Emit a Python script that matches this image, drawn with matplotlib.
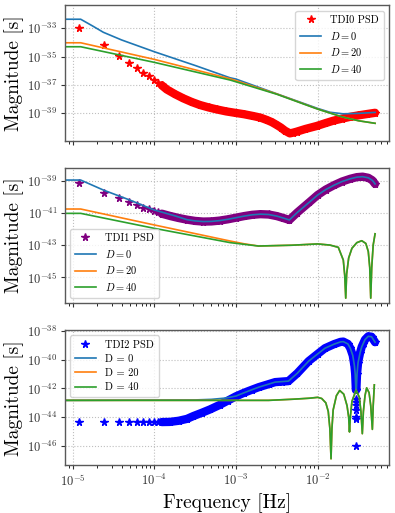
import matplotlib
matplotlib.use("Agg")
import matplotlib.pyplot as plt
from matplotlib.ticker import LogLocator, NullLocator, NullFormatter
import numpy as np

plt.rcParams["font.family"] = "serif"
plt.rcParams["font.serif"] = ["cmr10"]
plt.rcParams["mathtext.fontset"] = "cm"
plt.rcParams["axes.unicode_minus"] = False
plt.rcParams["axes.formatter.use_mathtext"] = True

# all values, as log10(frequency) / log10(magnitude)
star_lf = [-4.917, -4.614, -4.435, -4.312, -4.214, -4.133, -4.067, -4.006, -3.957, -3.908]

# ---- TDI0
tdi0_star = [-33.0, -34.2, -34.95, -35.43, -35.82, -36.13, -36.39, -36.63, -36.84, -37.02]
tdi0_band_lf = [-3.908, -3.847, -3.744, -3.644, -3.54, -3.44, -3.335, -3.235, -3.12, -3.0, -2.9,
                -2.787, -2.7, -2.62, -2.56, -2.5, -2.45, -2.40, -2.34, -2.30, -2.256, -2.15,
                -2.011, -1.91, -1.81, -1.70, -1.60, -1.50, -1.40, -1.297]
tdi0_band_lv = [-37.02, -37.31, -37.65, -37.94, -38.2, -38.41, -38.58, -38.72, -38.86, -38.97, -39.06,
                -39.19, -39.3, -39.47, -39.62, -39.82, -40.0, -40.22, -40.41, -40.36, -40.29, -40.1,
                -39.89, -39.7, -39.52, -39.37, -39.24, -39.14, -39.05, -38.96]
tdi0_d0_lf = [-5.092, -4.90, -4.75, -4.623, -4.4, -4.0, -3.5, -3.072, -3.0, -2.5, -2.0, -1.85, -1.69, -1.5, -1.297]
tdi0_d0_lv = [-32.36, -32.36, -32.85, -33.28, -33.82, -34.65, -35.62, -36.49, -36.58, -37.62, -38.65, -38.92, -39.03, -39.0, -38.93]
tdi0_d20_lf = [-5.092, -4.90, -4.0, -3.07, -2.5, -2.0, -1.705, -1.5, -1.297]
tdi0_d20_lv = [-34.02, -34.02, -35.19, -36.56, -37.63, -38.69, -39.24, -39.52, -39.70]
tdi0_d40_lf = [-5.092, -4.90, -4.0, -3.07, -2.5, -2.0, -1.705, -1.5, -1.297]
tdi0_d40_lv = [-34.30, -34.30, -35.40, -36.65, -37.65, -38.70, -39.24, -39.52, -39.70]

# ---- TDI1
tdi1_star = [-39.12, -39.75, -40.1, -40.34, -40.53, -40.68, -40.78, -40.88, -40.97, -41.05]
tdi1_band_lf = [-3.908, -3.8, -3.7, -3.6, -3.5, -3.4, -3.3, -3.2, -3.1, -3.0, -2.9, -2.8, -2.7,
                -2.6, -2.5, -2.42, -2.346, -2.25, -2.1, -2.0, -1.9, -1.8, -1.7, -1.6, -1.52,
                -1.45, -1.38, -1.33, -1.297]
tdi1_band_lv = [-41.05, -41.2, -41.32, -41.42, -41.5, -41.54, -41.53, -41.48, -41.4, -41.3, -41.2,
                -41.12, -41.08, -41.1, -41.2, -41.32, -41.44, -40.98, -40.33, -39.89, -39.55,
                -39.28, -39.05, -38.88, -38.78, -38.75, -38.82, -38.98, -39.2]
tdi1_d0_lf = [-5.092, -4.90, -4.623, -4.3, -4.0, -3.75] + tdi1_band_lf[3:]
tdi1_d0_lv = [-38.96, -38.96, -39.58, -40.2, -40.82, -41.18] + tdi1_band_lv[3:]
tdi1_d40_lf = [-5.092, -4.90, -4.0, -3.07, -2.725, -2.316, -2.0, -1.85, -1.747, -1.686, -1.668,
               -1.656, -1.645, -1.62, -1.58, -1.52, -1.46, -1.41, -1.38, -1.362, -1.35, -1.338,
               -1.32, -1.297]
tdi1_d40_lv = [-41.03, -41.03, -41.96, -42.85, -43.06, -43.01, -42.93, -43.0, -43.14, -43.93, -44.9,
               -46.3, -44.8, -43.8, -43.2, -42.85, -42.73, -42.9, -43.4, -44.4, -46.3, -44.4,
               -43.0, -42.3]
tdi1_d20_lf = [-5.092, -4.90, -4.0, -3.07, -2.9] + tdi1_d40_lf[4:]
tdi1_d20_lv = [-40.76, -40.76, -41.75, -42.75, -42.92] + tdi1_d40_lv[4:]

# ---- TDI2
tdi2_star = [-44.34] * 10
tdi2_band_lf = [-3.908, -3.81, -3.7, -3.6, -3.52, -3.42, -3.317, -3.2, -3.1, -3.0, -2.9, -2.8,
                -2.72, -2.6, -2.52, -2.43, -2.357, -2.25, -2.11, -2.0, -1.91, -1.8, -1.72,
                -1.686, -1.63, -1.60, -1.57, -1.55, -1.54, -1.532, -1.526, -1.518, -1.505,
                -1.48, -1.46, -1.42, -1.38, -1.34, -1.297]
tdi2_band_lv = [-44.34, -44.33, -44.25, -44.12, -43.92, -43.7, -43.46, -43.15, -42.85, -42.55, -42.3,
                -42.08, -41.91, -41.7, -41.56, -41.52, -41.49, -40.95, -40.1, -39.6, -39.2, -38.92,
                -38.76, -38.74, -38.9, -39.2, -39.7, -40.4, -41.0, -42.1, -42.1, -41.0, -40.2,
                -39.5, -39.1, -38.6, -38.37, -38.4, -38.78]
tdi2_notch_lf = [-1.529] * 7
tdi2_notch_lv = [-42.72, -42.95, -43.18, -43.53, -43.99, -44.15, -46.0]
tdi2_d0_lf = [-5.092, -3.5, -3.3, -3.13, -3.0] + tdi2_band_lf[10:]
tdi2_d0_lv = [-42.83, -42.8, -42.76, -42.67, -42.53] + tdi2_band_lv[10:]
tdi2_d40_lf = [-5.092, -2.6, -2.3, -2.1, -2.0, -1.95, -1.9, -1.87, -1.85, -1.836, -1.825, -1.81,
               -1.77, -1.73, -1.68, -1.64, -1.62, -1.61, -1.60, -1.58, -1.53, -1.49, -1.47,
               -1.453, -1.44, -1.42, -1.40, -1.37, -1.35, -1.33, -1.32, -1.306]
tdi2_d40_lv = [-42.83, -42.83, -42.75, -42.68, -42.62, -42.7, -43.0, -43.6, -44.8, -46.9, -44.8,
               -43.5, -42.5, -42.14, -42.4, -43.2, -44.0, -45.03, -44.0, -42.9, -42.12, -42.6,
               -43.6, -45.15, -43.6, -42.5, -41.96, -42.3, -43.2, -44.85, -43.2, -41.75]


def e(v):
    return 10.0 ** np.array(v)


W = 0.8203
axes_pos = [[0.1646, 0.7251, W, 0.2642],
            [0.1646, 0.4094, W, 0.2625],
            [0.1646, 0.0930, W, 0.2632]]

fig = plt.figure(figsize=(3.95, 5.13), dpi=100)
axs = [fig.add_axes(p) for p in axes_pos]

panels = [
    dict(name="TDI0 PSD", c="red", sv=tdi0_star, bf=tdi0_band_lf, bv=tdi0_band_lv,
         lines=[(tdi0_d0_lf, tdi0_d0_lv), (tdi0_d20_lf, tdi0_d20_lv), (tdi0_d40_lf, tdi0_d40_lv)],
         labels=["$D=0$", "$D=20$", "$D=40$"], loc="upper right",
         ylim=(-40.95, -31.39), yt=[-33, -35, -37, -39]),
    dict(name="TDI1 PSD", c="purple", sv=tdi1_star, bf=tdi1_band_lf, bv=tdi1_band_lv,
         lines=[(tdi1_d0_lf, tdi1_d0_lv), (tdi1_d20_lf, tdi1_d20_lv), (tdi1_d40_lf, tdi1_d40_lv)],
         labels=["$D=0$", "$D=20$", "$D=40$"], loc="lower left",
         ylim=(-46.6, -38.23), yt=[-39, -41, -43, -45]),
    dict(name="TDI2 PSD", c="blue", sv=tdi2_star, bf=tdi2_band_lf, bv=tdi2_band_lv,
         lines=[(tdi2_d0_lf, tdi2_d0_lv), (tdi2_d40_lf, tdi2_d40_lv), (tdi2_d40_lf, tdi2_d40_lv)],
         labels=["D = 0", "D = 20", "D = 40"], loc="upper left",
         ylim=(-47.35, -37.95), yt=[-38, -40, -42, -44, -46]),
]

for ax, p in zip(axs, panels):
    ax.plot(e(star_lf), e(p["sv"]), "*", color=p["c"], ms=5.5, label=p["name"])
    ax.plot(e(p["bf"]), e(p["bv"]), "-", color=p["c"], lw=6, solid_capstyle="round")
    ax.plot(e(p["bf"]), e(p["bv"]), "*", color=p["c"], ms=5.5)
    if p["name"] == "TDI2 PSD":
        ax.plot(e(tdi2_notch_lf), e(tdi2_notch_lv), "*", color=p["c"], ms=5.5)
    for (lf, lv), lab, col in zip(p["lines"], p["labels"], ["C0", "C1", "C2"]):
        ax.plot(e(lf), e(lv), "-", color=col, lw=1.2, label=lab)
    ax.set_xscale("log")
    ax.set_yscale("log")
    ax.set_xlim(10 ** -5.092, 10 ** -1.126)
    ax.set_ylim(10 ** p["ylim"][0], 10 ** p["ylim"][1])
    ax.set_yticks([10.0 ** t for t in p["yt"]])
    ax.yaxis.set_minor_locator(NullLocator())
    ax.set_xticks([1e-5, 1e-4, 1e-3, 1e-2])
    ax.xaxis.set_minor_locator(LogLocator(base=10, subs=np.arange(2, 10), numticks=20))
    ax.xaxis.set_minor_formatter(NullFormatter())
    ax.tick_params(labelsize=9, colors="0.2", length=3, width=0.8, pad=2.5)
    ax.tick_params(which="minor", length=1.8, width=0.6)
    ax.grid(True, which="major", ls=":", color="0.75", lw=0.8)
    for s in ax.spines.values():
        s.set_color("0.35")
        s.set_linewidth(1.0)
    ax.set_ylabel("Magnitude [s]", fontsize=14, labelpad=2)
    ax.legend(loc=p["loc"], fontsize=7.5, numpoints=1, handlelength=2.0, borderpad=0.45,
              labelspacing=0.45, handletextpad=0.9)
    if ax is not axs[-1]:
        ax.tick_params(labelbottom=False)

axs[-1].set_xlabel("Frequency [Hz]", fontsize=14, labelpad=3)
fig.align_ylabels(axs)

plt.savefig("out.png", dpi=100)
